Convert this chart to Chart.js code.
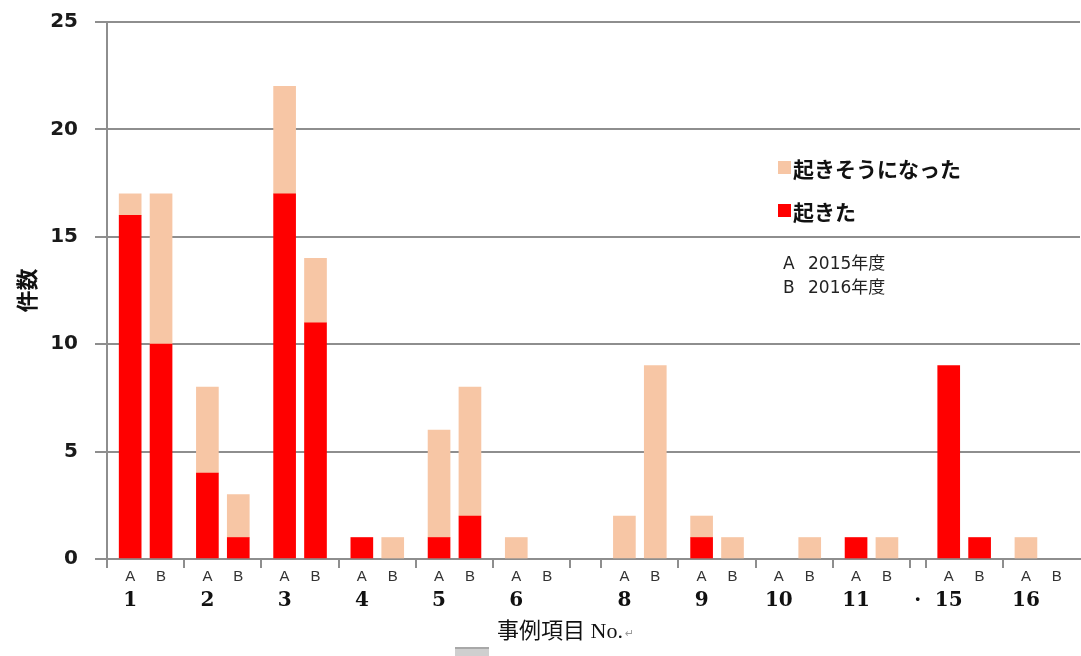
<!DOCTYPE html>
<html lang="ja">
<head>
<meta charset="utf-8">
<title>事例項目別 件数</title>
<script src="https://cdn.jsdelivr.net/npm/chart.js@4.4.1/dist/chart.umd.min.js"></script>
<style>
  html, body { margin: 0; padding: 0; background: #ffffff; }
  #wrap { position: relative; width: 1081px; height: 656px; }
</style>
</head>
<body>
<div id="wrap"><canvas id="chart"></canvas></div>
<script>
// 事例項目 No.
const groups = ['1', '2', '3', '4', '5', '6', '8', '9', '10', '11', '15', '16'];
// 起きた (A = 2015年度, B = 2016年度)
const occurredA = [16, 4, 17, 1, 1, 0, 0, 1, 0, 1, 9, 0];
const occurredB = [10, 1, 11, 0, 2, 0, 0, 0, 0, 0, 1, 0];
// 起きそうになった (A = 2015年度, B = 2016年度)
const nearMissA = [1, 4, 5, 0, 5, 1, 2, 1, 0, 0, 0, 1];
const nearMissB = [7, 2, 3, 1, 6, 0, 9, 1, 1, 1, 0, 0];
// narrow unnamed columns that follow a group, and their marks
const spacerAfter = [0, 0, 0, 0, 0, 2, 0, 0, 0, 1, 0, 0];
const spacerMark = ['', '', '', '', '', '', '', '', '', '·', '', ''];
const subLabels = ['A', 'B'];
const yTicks = [0, 5, 10, 15, 20, 25];
const seriesNames = ['起きた', '起きそうになった'];
const noteKeys = ['A', 'B'];
const noteTexts = ['2015年度', '2016年度'];
const xTitle = '事例項目 No.';
const yTitle = '件数';

const RED = '#ff0000';
const PEACH = '#f7c6a5';
const GRID = '#8e8e8e';

// Each group takes five slots: pad, A, pad, B, pad
const slotSub = [], slotNum = [], redData = [], peachData = [];
const boundaries = new Set([0]);
const nz = v => (v ? v : null);
groups.forEach((g, i) => {
  slotSub.push('', subLabels[0], '', subLabels[1], '');
  slotNum.push('', g, '', '', '');
  redData.push(null, nz(occurredA[i]), null, nz(occurredB[i]), null);
  peachData.push(null, nz(nearMissA[i]), null, nz(nearMissB[i]), null);
  boundaries.add(slotSub.length);
  for (let k = 0; k < spacerAfter[i]; k++) {
    slotSub.push('');
    slotNum.push(k === 0 ? spacerMark[i] : '');
    redData.push(null);
    peachData.push(null);
  }
  if (spacerAfter[i]) boundaries.add(slotSub.length);
});

// Legend and year notes drawn inside the plot area
const notesPlugin = {
  id: 'notes',
  afterDatasetsDraw(chart) {
    const { ctx } = chart;
    ctx.save();
    const rows = [
      { color: PEACH, text: seriesNames[1], y: 168 },
      { color: RED, text: seriesNames[0], y: 211 }
    ];
    rows.forEach(r => {
      ctx.fillStyle = r.color;
      ctx.fillRect(778, r.y - 7, 13, 13);
      ctx.fillStyle = '#111111';
      ctx.font = 'bold 21px "Noto Sans CJK JP", sans-serif';
      ctx.textBaseline = 'middle';
      ctx.textAlign = 'left';
      ctx.fillText(r.text, 793, r.y + 1);
    });
    const noteY = [265, 289];
    ctx.font = '17px "DejaVu Sans", "Noto Sans CJK JP", sans-serif';
    ctx.fillStyle = '#222222';
    noteKeys.forEach((k, i) => {
      ctx.fillText(k, 783, noteY[i]);
      ctx.fillText(noteTexts[i], 808, noteY[i]);
    });
    ctx.restore();
  },
  afterDraw(chart) {
    const { ctx } = chart;
    ctx.save();
    ctx.textBaseline = 'middle';
    ctx.textAlign = 'left';
    ctx.font = '22px "Liberation Serif", "Noto Sans CJK JP", serif';
    ctx.fillStyle = '#111111';
    ctx.fillText(xTitle, 497, 632);
    const w = ctx.measureText(xTitle).width;
    ctx.font = '11px "DejaVu Sans", sans-serif';
    ctx.fillStyle = '#9a9a9a';
    ctx.fillText('↵', 497 + w + 2, 634);
    // small grey tab under the title
    ctx.fillStyle = '#cfcfcf';
    ctx.fillRect(455, 647, 34, 9);
    ctx.fillStyle = '#a8a8a8';
    ctx.fillRect(455, 647, 34, 2);
    ctx.restore();
  }
};

const bgPlugin = {
  id: 'bg',
  beforeDraw(chart) {
    const { ctx } = chart;
    ctx.save();
    ctx.fillStyle = '#ffffff';
    ctx.fillRect(0, 0, chart.width, chart.height);
    ctx.restore();
  }
};

new Chart(document.getElementById('chart'), {
  type: 'bar',
  data: {
    labels: slotSub,
    datasets: [
      { label: seriesNames[0], data: redData, backgroundColor: RED, barThickness: 22, xAxisID: 'x', yAxisID: 'y' },
      { label: seriesNames[1], data: peachData, backgroundColor: PEACH, barThickness: 22, xAxisID: 'x', yAxisID: 'y' }
    ]
  },
  options: {
    responsive: true,
    maintainAspectRatio: false,
    animation: false,
    layout: { padding: { top: 22, right: 1, bottom: 38, left: 0 } },
    plugins: { legend: { display: false }, tooltip: { enabled: false } },
    scales: {
      x: {
        type: 'category',
        stacked: true,
        offset: true,
        grid: {
          offset: true,
          drawOnChartArea: false,
          drawTicks: true,
          tickLength: 9,
          lineWidth: 2,
          color: c => (boundaries.has(c.index) ? GRID : 'rgba(0,0,0,0)')
        },
        border: { display: true, color: GRID, width: 2 },
        ticks: {
          autoSkip: false,
          maxRotation: 0,
          minRotation: 0,
          padding: 0,
          color: '#333333',
          font: { family: '"Liberation Sans", "DejaVu Sans", sans-serif', size: 15 }
        },
        afterFit: s => { s.height = 24; }
      },
      xNum: {
        type: 'category',
        position: 'bottom',
        labels: slotNum,
        offset: true,
        grid: { display: false, drawTicks: false, offset: true },
        border: { display: false },
        ticks: {
          autoSkip: false,
          maxRotation: 0,
          minRotation: 0,
          padding: 6,
          color: '#111111',
          font: { family: '"DejaVu Serif", serif', size: 20, weight: 'bold' }
        },
        afterFit: s => { s.height = 35; }
      },
      y: {
        stacked: true,
        min: 0,
        max: 25,
        afterBuildTicks: s => { s.ticks = yTicks.map(v => ({ value: v })); },
        grid: { color: GRID, lineWidth: 2, tickLength: 12, drawTicks: true },
        border: { display: true, color: GRID, width: 2 },
        ticks: {
          padding: 17,
          color: '#1a1a1a',
          font: { family: '"DejaVu Sans", sans-serif', size: 20, weight: 'bold' }
        },
        title: {
          display: true,
          text: yTitle,
          color: '#111111',
          padding: { top: 13, bottom: 0 },
          font: { family: '"Noto Sans CJK JP", sans-serif', size: 22, weight: 'bold' }
        },
        afterFit: s => {
          s.width = 107;
          s.paddingTop = 0;
          s.paddingBottom = 0;
        }
      }
    }
  },
  plugins: [bgPlugin, notesPlugin]
});
</script>
</body>
</html>
